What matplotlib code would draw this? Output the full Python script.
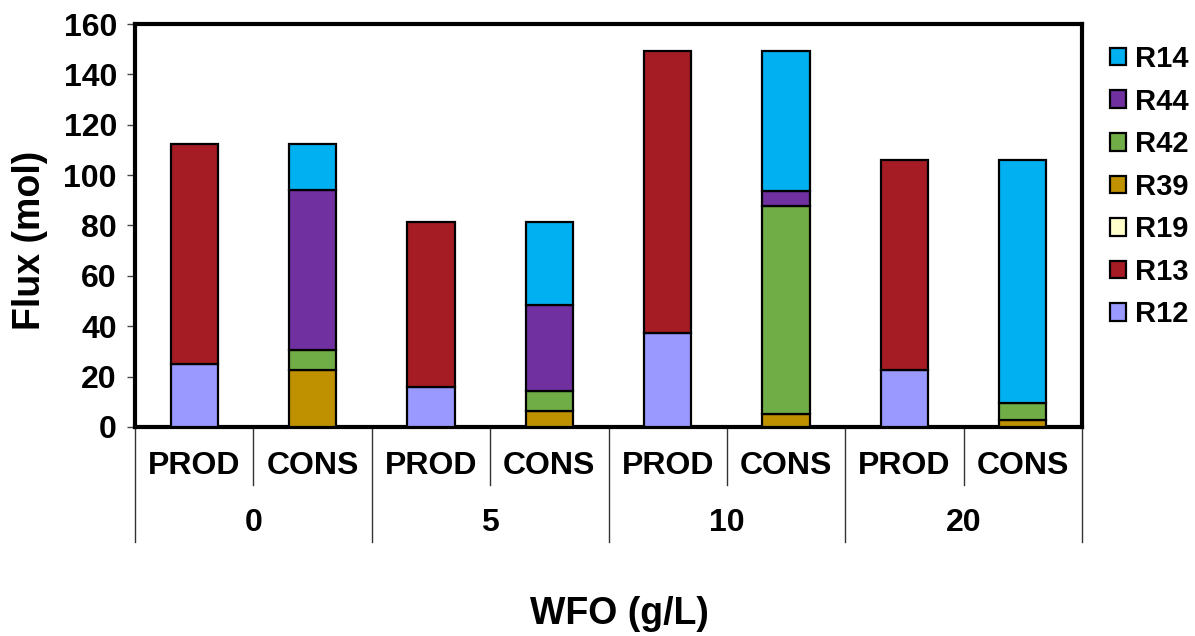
import numpy as np
import matplotlib
matplotlib.use("Agg")
import matplotlib.pyplot as plt
from matplotlib.lines import Line2D
from matplotlib.patches import Patch

plt.rcParams['font.family'] = ['Liberation Sans', 'DejaVu Sans']
plt.rcParams['font.weight'] = 'bold'

groups = ['0', '5', '10', '20']
cats = ['PROD', 'CONS', 'PROD', 'CONS', 'PROD', 'CONS', 'PROD', 'CONS']
series_names = ['R12', 'R13', 'R19', 'R39', 'R42', 'R44', 'R14']
R12 = [25.2, 0, 15.9, 0, 37.3, 0, 22.5, 0]
R13 = [87.1, 0, 65.3, 0, 112.0, 0, 83.5, 0]
R19 = [0, 0, 0, 0, 0, 0, 0, 0]
R39 = [0, 22.8, 0, 6.2, 0, 5.3, 0, 2.9]
R42 = [0, 7.7, 0, 8.1, 0, 82.6, 0, 6.8]
R44 = [0, 63.4, 0, 34.2, 0, 5.8, 0, 0]
R14 = [0, 18.4, 0, 32.7, 0, 55.6, 0, 96.3]
colors = ['#9999FF', '#A51C24', '#FFFFCC', '#BF9000', '#70AD47', '#7030A0', '#00B0F0']

W, H = 1195, 636
fig = plt.figure(figsize=(W / 100, H / 100), dpi=100)
ax = fig.add_axes([135 / W, 1 - 427 / H, (1082 - 135) / W, (427 - 24) / H])

x = np.arange(len(cats)) + 0.5
bottom = np.zeros(len(cats))
for name, vals, c in zip(series_names, [R12, R13, R19, R39, R42, R44, R14], colors):
    v = np.array(vals, dtype=float)
    m = v > 0
    if m.any():
        ax.bar(x[m], v[m], width=0.4, bottom=bottom[m], color=c, edgecolor='black',
               linewidth=1.6, zorder=3)
    bottom += v

ax.set_xlim(0, len(cats))
ax.set_ylim(0, 160)
ax.set_yticks(np.arange(0, 161, 20))
ax.tick_params(axis='y', direction='out', length=6, width=1, color='#444444', pad=7, labelsize=23)
ax.set_xticks([])
for s in ax.spines.values():
    s.set_linewidth(3)

trans = ax.get_xaxis_transform()
def py(p):
    # pixel row -> axes-y fraction
    return (427 - p) / (427 - 24)

for i, c in enumerate(cats):
    ax.text(x[i], py(466), c, transform=trans, ha='center', va='center', fontsize=23, fontweight='bold')
for g, name in enumerate(groups):
    ax.text(2 * g + 1, py(523), name, transform=trans, ha='center', va='center', fontsize=23, fontweight='bold')
for k in range(len(cats) + 1):
    y1 = py(542) if k % 2 == 0 else py(485)
    ax.add_line(Line2D([k, k], [0, y1], transform=trans, color='#333333', lw=1, clip_on=False))

fig.text(619 / W, 1 - 614 / H, 'WFO (g/L)', ha='center', va='center', fontsize=27, fontweight='bold')
fig.text(30 / W, 1 - 240 / H, 'Flux (mol)', ha='center', va='center', rotation=90, fontsize=27, fontweight='bold')

handles = [Patch(facecolor=c, edgecolor='black', linewidth=1.6) for c in colors][::-1]
labels = series_names[::-1]
leg = fig.legend(handles, labels, loc='upper left', bbox_to_anchor=(1110 / W, 1 - 45 / H),
                 frameon=False, fontsize=21, handlelength=0.55, handleheight=0.55,
                 handletextpad=0.3, labelspacing=0.5, borderaxespad=0, borderpad=0)

fig.savefig('out.png', dpi=100)
